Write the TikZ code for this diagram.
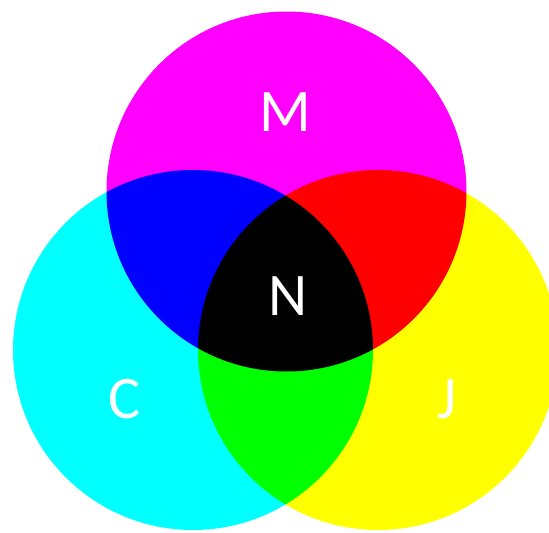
\documentclass[tikz,border=0pt]{standalone}
\usepackage{fontspec}
\setmainfont{Carlito}
\usepackage{tikz}
\usetikzlibrary{positioning}
\definecolor{inkC}{RGB}{0,255,255}
\definecolor{inkM}{RGB}{255,0,255}
\definecolor{inkJ}{RGB}{255,255,0}
\tikzset{
    ink disc/.style={fill=#1, draw=none},
    ink label/.style={text=white, inner sep=0pt, font=\fontsize{43}{43}\selectfont},
}
\begin{document}
\begin{tikzpicture}[x=0.025cm, y=-0.025cm]
    \useasboundingbox (0,0) rectangle (549,533);
    \clip (0,0) rectangle (549,533);
    \coordinate (mcentre) at (286.5,191.5);
    \coordinate (ccentre) at (193,350);
    \coordinate (jcentre) at (378,350);

    % the three inks, multiplied where they overlap
    \begin{scope}[blend group=multiply]
        \fill [ink disc=inkM] (mcentre) circle (180);
        \fill [ink disc=inkC] (ccentre) circle (180);
        \fill [ink disc=inkJ] (jcentre) circle (180);
    \end{scope}

    \node (m) [ink label] at (285,112) {M};
    \node (n) [ink label] at (288,296) {N};
    \node (c) [ink label] at (125,399) {C};
    \node (j) [ink label] at (447,399) {J};
\end{tikzpicture}
\end{document}
